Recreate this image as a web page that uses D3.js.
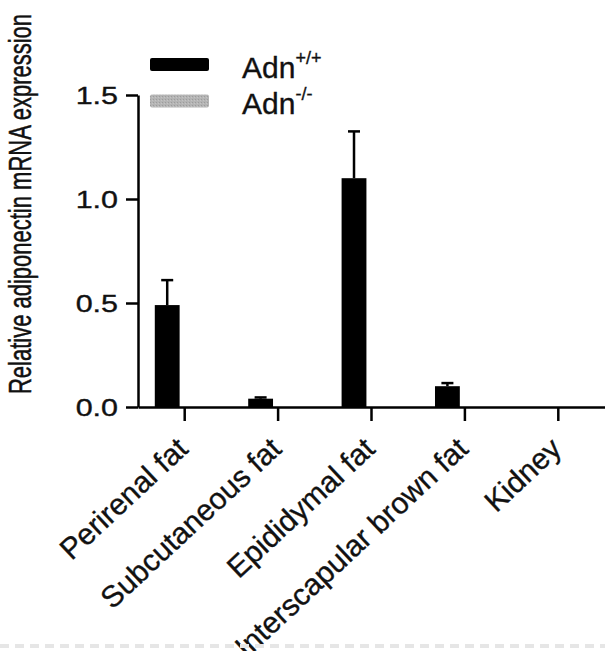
<!DOCTYPE html>
<html>
<head>
<meta charset="utf-8">
<script src="https://cdn.jsdelivr.net/npm/d3@7"></script>
<style>
  html, body { margin: 0; padding: 0; background: #fff; }
  svg { display: block; }
  text { font-family: "Liberation Sans", Arial, Helvetica, sans-serif; fill: #111; stroke: #111; stroke-width: 0.35; }
</style>
</head>
<body>
<svg id="chart" width="605" height="651"></svg>
<script>
// Tissues on the x axis
const categories = ["Perirenal fat", "Subcutaneous fat", "Epididymal fat", "Interscapular brown fat", "Kidney"];
// Genotype groups
const groups = ["wt", "ko"];
// Mean relative expression and SEM, Adn+/+
const wildTypeMean = [0.49, 0.04, 1.10, 0.10, 0.0];
const wildTypeSem  = [0.12, 0.006, 0.225, 0.015, 0.0];
// Mean relative expression and SEM, Adn-/-
const knockoutMean = [0, 0, 0, 0, 0];
const knockoutSem  = [0, 0, 0, 0, 0];
// Y axis ticks
const yTicks = [0, 0.5, 1.0, 1.5];
const yTickLabels = ["0.0", "0.5", "1.0", "1.5"];
const yTitle = "Relative adiponectin mRNA expression";
const legendLabels = [{ base: "Adn", sup: "+/+" }, { base: "Adn", sup: "-/-" }];

const svg = d3.select("#chart");
const plotLeft = 138, plotRight = 605, plotTop = 95, plotBottom = 407;
const sx = 1.27; // horizontal text stretch

const defs = svg.append("defs");
const pat = defs.append("pattern").attr("id", "greyTex").attr("width", 3).attr("height", 3)
  .attr("patternUnits", "userSpaceOnUse");
pat.append("rect").attr("width", 3).attr("height", 3).attr("fill", "#b4b4b4");
pat.append("rect").attr("x", 0).attr("y", 0).attr("width", 1).attr("height", 1).attr("fill", "#9c9c9c");
pat.append("rect").attr("x", 2).attr("y", 1).attr("width", 1).attr("height", 1).attr("fill", "#c4c4c4");

const x0 = d3.scaleBand().domain(categories).range([plotLeft, plotRight]).padding(0);
const x1 = d3.scaleBand().domain(groups).range([0, x0.bandwidth()])
  .paddingInner(0.29).paddingOuter(0.48);
const y = d3.scaleLinear().domain([0, 1.5]).range([plotBottom, plotTop]);

const colors = { wt: "#000", ko: "url(#greyTex)" };
const series = {
  wt: categories.map((c, i) => ({ c, m: wildTypeMean[i], e: wildTypeSem[i] })),
  ko: categories.map((c, i) => ({ c, m: knockoutMean[i], e: knockoutSem[i] }))
};

// Bars
groups.forEach(g => {
  svg.append("g").selectAll("rect").data(series[g]).join("rect")
    .attr("x", d => x0(d.c) + x1(g))
    .attr("y", d => y(d.m))
    .attr("width", x1.bandwidth())
    .attr("height", d => y(0) - y(d.m))
    .attr("fill", colors[g]);
  // Upward error bars
  const eb = svg.append("g").attr("stroke", "#000").attr("stroke-width", 2.5)
    .selectAll("g").data(series[g].filter(d => d.e > 0)).join("g");
  eb.append("line")
    .attr("x1", d => x0(d.c) + x1(g) + x1.bandwidth() / 2)
    .attr("x2", d => x0(d.c) + x1(g) + x1.bandwidth() / 2)
    .attr("y1", d => y(d.m)).attr("y2", d => y(d.m + d.e));
  eb.append("line")
    .attr("x1", d => x0(d.c) + x1(g) + x1.bandwidth() / 2 - 6)
    .attr("x2", d => x0(d.c) + x1(g) + x1.bandwidth() / 2 + 6)
    .attr("y1", d => y(d.m + d.e)).attr("y2", d => y(d.m + d.e));
});

// Y axis
const yAxis = svg.append("g").attr("transform", `translate(${plotLeft},0)`)
  .call(d3.axisLeft(y).tickValues(yTicks).tickSize(12).tickSizeOuter(0).tickFormat(""));
yAxis.selectAll("path, line").attr("stroke", "#000").attr("stroke-width", 2.5);
svg.append("g").selectAll("text").data(yTicks).join("text")
  .attr("transform", d => `translate(${plotLeft - 20},${y(d)}) scale(${sx},1)`)
  .attr("text-anchor", "end").attr("dy", "0.36em")
  .attr("font-size", 24)
  .text((d, i) => yTickLabels[i]);

// X axis
const xAxis = svg.append("g").attr("transform", `translate(0,${plotBottom})`)
  .call(d3.axisBottom(x0).tickSize(14).tickSizeOuter(0).tickFormat(""));
xAxis.selectAll("path, line").attr("stroke", "#000").attr("stroke-width", 2.5);
svg.append("g").selectAll("text").data(categories).join("text")
  .attr("transform", d => `translate(${x0(d) + x0.bandwidth() / 2 + 5},${plotBottom + 44}) rotate(-43)`)
  .attr("text-anchor", "end")
  .attr("font-size", 30)
  .text(d => d);

// Y title
svg.append("text")
  .attr("transform", `translate(31,${(15 + 393) / 2}) scale(1.4,1) rotate(-90)`)
  .attr("text-anchor", "middle")
  .attr("font-size", 22)
  .text(yTitle);

// Legend
const leg = svg.append("g");
const legY = [64.5, 101];
groups.forEach((g, i) => {
  leg.append("rect").attr("x", 150).attr("y", legY[i] - 6.5).attr("width", 59).attr("height", 13)
    .attr("rx", 2).attr("fill", colors[g]);
  const t = leg.append("text").attr("x", 242).attr("y", legY[i] + 13).attr("font-size", 30);
  t.append("tspan").text(legendLabels[i].base);
  t.append("tspan").attr("font-size", 18).attr("dy", -14).text(legendLabels[i].sup);
});

// Faint dashed border at the foot of the figure
svg.append("line").attr("x1", 0).attr("x2", 605).attr("y1", 646).attr("y2", 646)
  .attr("stroke", "#e6e6e6").attr("stroke-width", 4).attr("stroke-dasharray", "9 6");
</script>
</body>
</html>
